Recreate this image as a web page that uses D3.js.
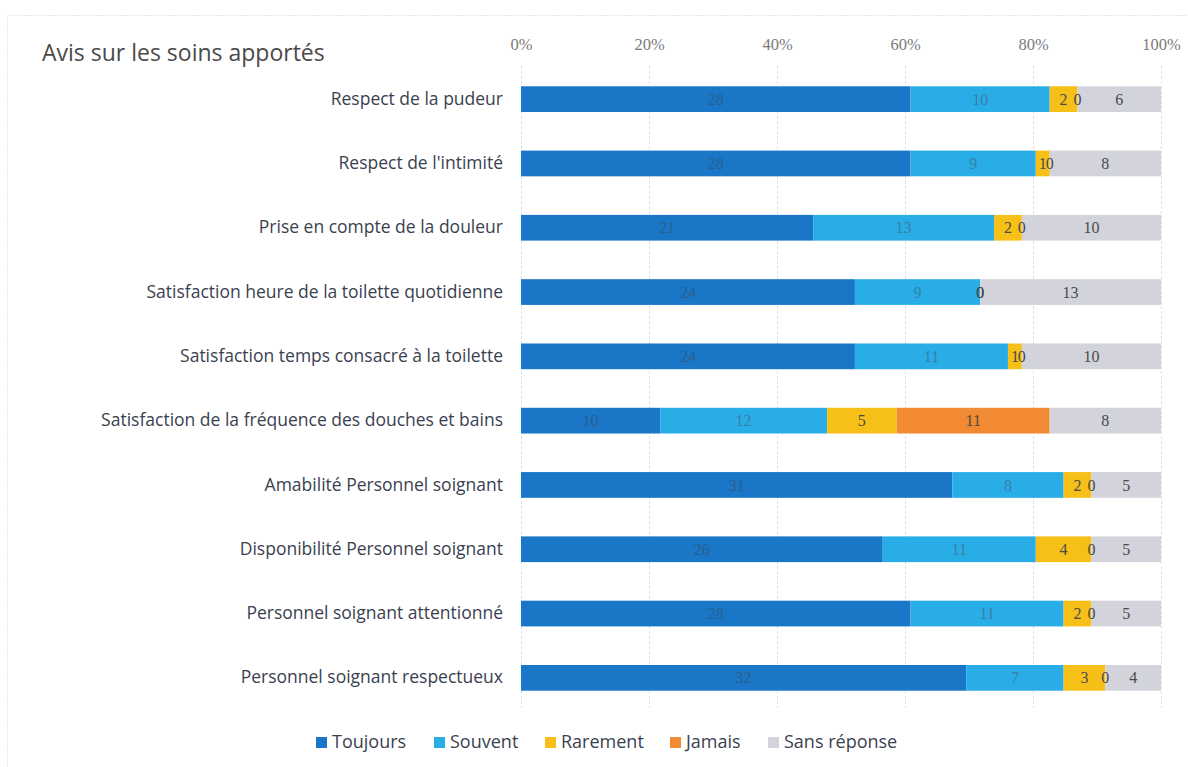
<!DOCTYPE html>
<html>
<head>
<meta charset="utf-8">
<script src="https://cdn.jsdelivr.net/npm/d3@7"></script>
<style>
  html, body { margin: 0; padding: 0; background: #ffffff; }
  svg { display: block; }
</style>
</head>
<body>
<svg id="chart" width="1188" height="767"></svg>
<script>
// Survey answers: number of respondents per question and answer
const categories = [
  "Respect de la pudeur",
  "Respect de l'intimité",
  "Prise en compte de la douleur",
  "Satisfaction heure de la toilette quotidienne",
  "Satisfaction temps consacré à la toilette",
  "Satisfaction de la fréquence des douches et bains",
  "Amabilité Personnel soignant",
  "Disponibilité Personnel soignant",
  "Personnel soignant attentionné",
  "Personnel soignant respectueux"
];
const seriesNames = ["Toujours", "Souvent", "Rarement", "Jamais", "Sans réponse"];
const toujours    = [28, 28, 21, 24, 24, 10, 31, 26, 28, 32];
const souvent     = [10,  9, 13,  9, 11, 12,  8, 11, 11,  7];
const rarement    = [ 2,  1,  2,  0,  1,  5,  2,  4,  2,  3];
const jamais      = [ 0,  0,  0,  0,  0, 11,  0,  0,  0,  0];
const sansReponse = [ 6,  8, 10, 13, 10,  8,  5,  5,  5,  4];
const tickLabels  = ["0%", "20%", "40%", "60%", "80%", "100%"];
const tickValues  = [0, 0.2, 0.4, 0.6, 0.8, 1];
const colors      = ["#1a76c6", "#29ade6", "#f6c019", "#f28a33", "#d3d3db"];
const labelColors = ["#2a5f8e", "#3a7fa8", "#4a4a4a", "#4a4a4a", "#4a4a4a"];

const seriesValues = [toujours, souvent, rarement, jamais, sansReponse];
const rows = categories.map((c, i) => {
  const r = { category: c };
  seriesNames.forEach((s, k) => { r[s] = seriesValues[k][i]; });
  r.total = seriesNames.reduce((a, s) => a + r[s], 0);
  return r;
});
const stacked = d3.stack()
  .keys(seriesNames)
  .value((d, key) => d[key] / d.total)(rows);

const svg = d3.select("#chart");

// faint frame of the chart area
svg.append("path")
  .attr("d", "M7.5,767 V15.5 H1188")
  .attr("fill", "none")
  .attr("stroke", "#e4e8ee")
  .attr("stroke-dasharray", "2,1");

const x = d3.scaleLinear().domain([0, 1]).range([521, 1161]);
const y = d3.scaleBand().domain(categories).range([67, 710]).paddingInner(0.6).paddingOuter(0.3);

// vertical gridlines
svg.append("g")
  .selectAll("line")
  .data(tickValues)
  .join("line")
  .attr("x1", d => x(d) + 0.5).attr("x2", d => x(d) + 0.5)
  .attr("y1", 66).attr("y2", 708)
  .attr("stroke", "#dde3ec")
  .attr("stroke-width", 1)
  .attr("stroke-dasharray", "3,2");

// top percentage axis
const xAxis = d3.axisTop(x)
  .tickValues(tickValues)
  .tickFormat((d, i) => tickLabels[i])
  .tickSize(0).tickPadding(0);
const gx = svg.append("g").attr("transform", "translate(0,50)").call(xAxis);
gx.select(".domain").remove();
gx.selectAll("text")
  .attr("font-family", "'Liberation Serif', serif")
  .attr("font-size", 16.5)
  .attr("fill", "#7a7a7a");

// category axis
const yAxis = d3.axisLeft(y).tickSize(0).tickPadding(18);
const gy = svg.append("g").attr("transform", "translate(521,0)").call(yAxis);
gy.select(".domain").remove();
gy.selectAll("text")
  .attr("font-family", "'Open Sans', sans-serif")
  .attr("font-size", 17.5)
  .attr("fill", "#3a4150");

// stacked bars
const layers = svg.append("g")
  .selectAll("g")
  .data(stacked)
  .join("g")
  .attr("fill", (d, i) => colors[i]);

layers.selectAll("rect")
  .data(d => d)
  .join("rect")
  .attr("x", d => x(d[0]))
  .attr("y", d => y(d.data.category))
  .attr("width", d => x(d[1]) - x(d[0]))
  .attr("height", y.bandwidth());

// value labels, centred in each segment
const labels = svg.append("g");
stacked.forEach((layer, k) => {
  labels.selectAll(null)
    .data(layer)
    .join("text")
    .attr("x", d => (x(d[0]) + x(d[1])) / 2)
    .attr("y", d => y(d.data.category) + y.bandwidth() / 2)
    .attr("dy", "0.35em")
    .attr("text-anchor", "middle")
    .attr("font-family", "'Liberation Serif', serif")
    .attr("font-size", 16)
    .attr("fill", labelColors[k])
    .text(d => d.data[layer.key]);
});

// legend
const legendItems = [
  { name: "Toujours", x: 316 },
  { name: "Souvent", x: 434 },
  { name: "Rarement", x: 545 },
  { name: "Jamais", x: 670 },
  { name: "Sans réponse", x: 768 }
];
const legend = svg.append("g").attr("transform", "translate(0,742)");
legendItems.forEach((it, i) => {
  legend.append("rect")
    .attr("x", it.x).attr("y", -5)
    .attr("width", 11).attr("height", 11)
    .attr("fill", colors[seriesNames.indexOf(it.name)]);
  legend.append("text")
    .attr("x", it.x + 16).attr("y", 0)
    .attr("dy", "0.35em")
    .attr("font-family", "'Open Sans', sans-serif")
    .attr("font-size", 18)
    .attr("fill", "#3a4150")
    .text(it.name);
});

// title
svg.append("text")
  .attr("x", 42).attr("y", 61)
  .attr("font-family", "'Open Sans', sans-serif")
  .attr("font-size", 23)
  .attr("fill", "#4a4a4a")
  .text("Avis sur les soins apportés");
</script>
</body>
</html>
